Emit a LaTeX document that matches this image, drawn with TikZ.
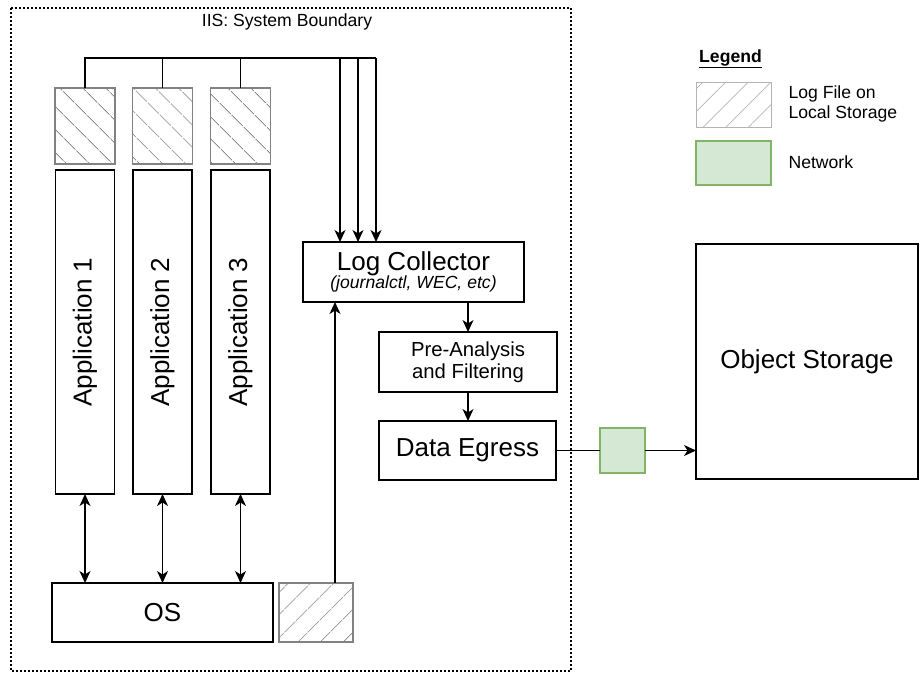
\documentclass[tikz,border=0pt]{standalone}
\usepackage{fontspec}
\setmainfont{Liberation Sans}
\usepackage{tikz}
\usetikzlibrary{arrows.meta,patterns.meta}
\definecolor{hatchgray}{RGB}{140,140,140}
\definecolor{hatchedge}{RGB}{130,130,130}
\definecolor{legendgray}{RGB}{180,180,180}
\definecolor{netfill}{HTML}{D5E8D4}
\definecolor{netedge}{HTML}{82B366}
\newcommand{\bigfont}{\fontsize{26}{30}\selectfont}
\newcommand{\midfont}{\fontsize{20.3}{22}\selectfont}
\newcommand{\smallfont}{\fontsize{17.6}{20}\selectfont}

\begin{document}
\begin{tikzpicture}[x=1pt, y=-1pt,
  box/.style={draw, line width=1.4pt, inner sep=0pt, outer sep=0pt, align=center, font=\bigfont},
  logfile/.style={draw=hatchedge, line width=1.4pt, inner sep=0pt, outer sep=0pt,
                  pattern={Lines[angle=-45, distance=17pt, line width=1pt]}, pattern color=hatchgray},
  netbox/.style={draw=netedge, fill=netfill, line width=1.4pt, inner sep=0pt, outer sep=0pt},
  link/.style={line width=1.4pt},
  arrow/.style={-{Stealth[length=12pt, width=11pt, inset=3.5pt]}, line width=1.4pt},
  dblarrow/.style={{Stealth[length=12pt, width=11pt, inset=3.5pt]}-{Stealth[length=12pt, width=11pt, inset=3.5pt]}, line width=1.4pt},
  boundary/.style={line width=1.9pt, dash pattern=on 1.9pt off 2.1pt}
]
\useasboundingbox (0,0) rectangle (920,672);

% System boundary
\draw[boundary] (11,8) rectangle (571,671);
\node[font=\smallfont] (title) at (287,22) {IIS: System Boundary};

% Log files on local storage
\node[logfile, minimum width=60, minimum height=76] (log1) at (85,126) {};
\node[logfile, minimum width=60, minimum height=76] (log2) at (162.5,126) {};
\node[logfile, minimum width=60, minimum height=76] (log3) at (240.5,126) {};

% Applications
\node[box, minimum width=59, minimum height=324] (app1) at (85,332) {\rotatebox{90}{Application 1}};
\node[box, minimum width=59, minimum height=324] (app2) at (162.5,332) {\rotatebox{90}{Application 2}};
\node[box, minimum width=59, minimum height=324] (app3) at (240.5,332) {\rotatebox{90}{Application 3}};

% OS and its log file
\node[box, minimum width=221, minimum height=59] (os) at (162.5,612.5) {OS};
\node[logfile, pattern={Lines[angle=45, distance=17pt, line width=1pt]},
      minimum width=74, minimum height=59] (oslog) at (316,612.5) {};

% Collection pipeline
\node[box, minimum width=221, minimum height=60] (collector) at (413.5,272)
  {Log Collector\\[-12pt]{\smallfont\itshape (journalctl, WEC, etc)}};
\node[box, font=\midfont, minimum width=178, minimum height=60] (filter) at (468,362)
  {Pre-Analysis\\and Filtering};
\node[box, minimum width=177, minimum height=59] (egress) at (467.5,450.5) {Data Egress};

% Network and storage
\node[netbox, minimum width=45, minimum height=45] (net) at (622.5,450.5) {};
\node[box, minimum width=222, minimum height=235] (store) at (807,361.5) {Object Storage};

% Log bus to collector
\path (log1.north) ++(0,-30) coordinate (bus);
\coordinate (ina) at ([xshift=37]collector.north west);
\coordinate (inb) at ([xshift=55]collector.north west);
\coordinate (inc) at ([xshift=73]collector.north west);
\draw[link] (log1.north) -- (bus) -- (bus -| inc);
\draw[link] (log2.north) -- (log2.north |- bus);
\draw[link] (log3.north) -- (log3.north |- bus);
\draw[arrow] (ina |- bus) -- (ina);
\draw[arrow] (inb |- bus) -- (inb);
\draw[arrow] (inc |- bus) -- (inc);

% Applications <-> OS
\draw[dblarrow] (app1.south) -- (app1.south |- os.north);
\draw[dblarrow] (app2.south) -- (app2.south |- os.north);
\draw[dblarrow] (app3.south) -- (app3.south |- os.north);

% OS log to collector
\draw[arrow] ([xshift=19]oslog.north) -- ([xshift=19]oslog.north |- collector.south);

% Pipeline
\draw[arrow] (collector.south -| filter.north) -- (filter.north);
\draw[arrow] (filter.south) -- (filter.south |- egress.north);
\draw[link] (egress.east) -- (net.west);
\draw[arrow] (net.east) -- (net.east -| store.west);

% Legend
\node[font=\smallfont\bfseries] (legend) at (730.5,59) {\underline{Legend}};
\node[draw=legendgray, line width=1pt, inner sep=0pt, outer sep=0pt,
      pattern={Lines[angle=45, distance=16pt, line width=0.7pt]}, pattern color=legendgray,
      minimum width=75, minimum height=45] (keylog) at (733.5,104.5) {};
\node[font=\smallfont, align=left, anchor=west] (keylogtxt) at (785,103.5) {Log File on\\Local Storage};
\node[netbox, minimum width=75, minimum height=44] (keynet) at (733.5,163) {};
\node[font=\smallfont, anchor=west] (keynettxt) at (785,162) {Network};

\end{tikzpicture}
\end{document}
